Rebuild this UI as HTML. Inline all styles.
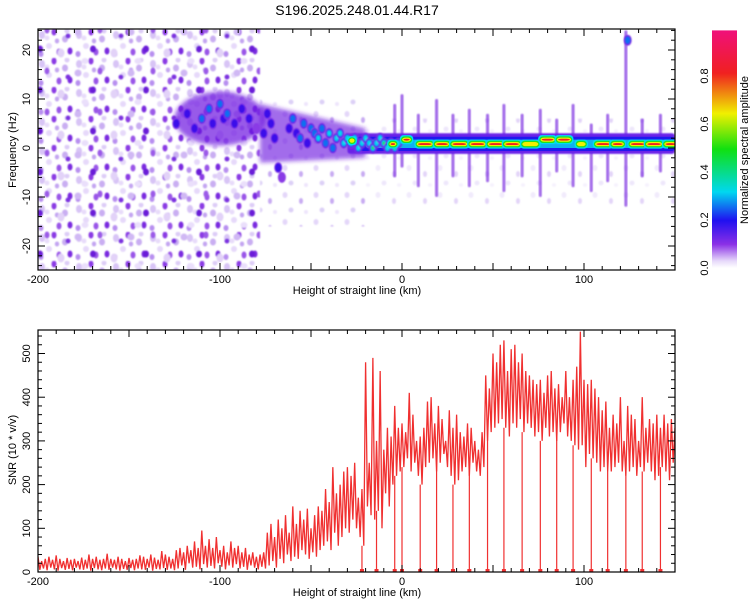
<!DOCTYPE html>
<html><head><meta charset="utf-8"><style>
body{margin:0;background:#fff;}
svg text{font-family:"Liberation Sans",sans-serif;fill:#000;}
</style></head><body>
<svg id="chart" width="750" height="600" viewBox="0 0 750 600" xmlns="http://www.w3.org/2000/svg">
<defs>
<filter id="soft" x="-20%" y="-20%" width="140%" height="140%"><feGaussianBlur stdDeviation="0.9"/></filter>
<filter id="soft2" x="-20%" y="-20%" width="140%" height="140%"><feGaussianBlur stdDeviation="2.2"/></filter>
<pattern id="noise1" width="37" height="29" patternUnits="userSpaceOnUse">
<ellipse cx="5" cy="6" rx="3" ry="4" fill="#d8c4f6"/><ellipse cx="17" cy="3" rx="2.5" ry="3.5" fill="#8a3ae4"/>
<ellipse cx="28" cy="10" rx="3" ry="3.5" fill="#c9aef2"/><ellipse cx="33" cy="22" rx="2.5" ry="3.5" fill="#7a2ce0"/>
<ellipse cx="12" cy="17" rx="3" ry="3" fill="#e6d9fa"/><ellipse cx="22" cy="23" rx="2.5" ry="3.5" fill="#9a55e8"/>
<ellipse cx="4" cy="25" rx="2.5" ry="3" fill="#b88ff0"/><ellipse cx="20" cy="12" rx="2.2" ry="2.5" fill="#c3a4f1"/>
<ellipse cx="10" cy="9" rx="2.5" ry="2.5" fill="#e8dcfa"/><ellipse cx="30" cy="2" rx="2.5" ry="2.5" fill="#ddccf7"/>
</pattern>
<pattern id="noise3" width="53" height="41" patternUnits="userSpaceOnUse">
<ellipse cx="8" cy="12" rx="3.5" ry="4.5" fill="#e2d2f8"/><ellipse cx="40" cy="8" rx="3" ry="3.5" fill="#6a1ed8"/>
<ellipse cx="25" cy="32" rx="3.5" ry="3.5" fill="#d0b8f4"/><ellipse cx="47" cy="30" rx="2.5" ry="3.5" fill="#9b5ae8"/>
<ellipse cx="15" cy="36" rx="2.5" ry="2.5" fill="#7c30e0"/><ellipse cx="32" cy="20" rx="3.5" ry="3" fill="#eadffb"/>
</pattern>
<pattern id="noise2" width="31" height="27" patternUnits="userSpaceOnUse">
<ellipse cx="6" cy="6" rx="2.5" ry="3" fill="#e4d7f9"/><ellipse cx="22" cy="12" rx="2" ry="3" fill="#c7aaf2"/>
<ellipse cx="12" cy="21" rx="2.5" ry="2.5" fill="#ddd0f7"/><ellipse cx="27" cy="23" rx="2" ry="2" fill="#eee5fc"/>
</pattern>
<linearGradient id="cbar" x1="0" y1="1" x2="0" y2="0">
<stop offset="0" stop-color="#ffffff"/><stop offset="0.03" stop-color="#e6d8fa"/>
<stop offset="0.1" stop-color="#8a30e6"/><stop offset="0.2" stop-color="#2010f0"/>
<stop offset="0.32" stop-color="#00d8f0"/><stop offset="0.5" stop-color="#10e010"/>
<stop offset="0.65" stop-color="#f0f000"/><stop offset="0.82" stop-color="#f02020"/>
<stop offset="1" stop-color="#f0107a"/>
</linearGradient>
<clipPath id="clipTop"><rect x="38" y="29" width="637" height="241"/></clipPath>
<clipPath id="clipBot"><rect x="38" y="330" width="637" height="242"/></clipPath>
</defs>
<text x="357" y="15" font-size="14" text-anchor="middle">S196.2025.248.01.44.R17</text>
<g id="top"></g>
<g id="bot"></g>
<g id="cb"></g>
</svg>
<script>
// ---- data ----
const blobKm=[-124,-118,-114,-110,-106,-104,-100,-98,-96,-92,-88,-84,-80,-76,-74,-72,-70,-68,-66,-62,-60,-58,-56,-54,-52,-50,-48,-46,-44,-42,-40,-38,-36,-34,-32,-30,-28,-26,-24,-22,-20,-18,-16,-14,-12,-10,-8,-6,-4,-2,124];
const blobFreq=[5,7,4,6,8,5,9,6,7,5,8,6,4,3,7,5,2,-4,-6,4,6,3,2,5,1,4,3,2,4,1,3,0,2,3,1,2,1,2,0,1,2,1,0,1,2,1,0,1,0,1,22];
const blobAmp=[0.25,0.2,0.22,0.26,0.3,0.2,0.28,0.22,0.26,0.18,0.2,0.18,0.16,0.2,0.24,0.22,0.25,0.2,0.15,0.22,0.3,0.24,0.28,0.3,0.25,0.3,0.27,0.32,0.26,0.3,0.33,0.28,0.32,0.35,0.4,0.45,0.4,0.35,0.38,0.42,0.45,0.4,0.5,0.45,0.38,0.5,0.4,0.45,0.55,0.45,0.3];
const dashStartKm=[-28,-6,1,9,19,28,38,48,57,67,77,86,97,107,116,126,135,145];
const dashEndKm=[-27,-4,4,16,25,35,45,55,64,74,83,92,100,114,121,133,142,150];
const dashFreq=[1.5,0.8,1.7,0.8,0.8,0.8,0.8,0.8,0.8,0.8,1.7,1.7,0.8,0.8,0.8,0.8,0.8,0.8];
const dashAmp=[0.65,0.8,0.85,0.85,0.85,0.85,0.85,0.85,0.85,0.65,0.85,0.85,0.7,0.8,0.85,0.85,0.85,0.85];
const spikeKm=[-4,0,9,19,28,37,47,56,66,76,85,94,104,113,123,132,142];
const spikeTop=[9,11,7,10,7,8,7,9,7,8,6,9,5,7,24,6,7];
const spikeBottom=[-6,-4,-8,-10,-6,-8,-7,-9,-6,-10,-5,-8,-9,-7,-12,-6,-5];
const kmStart=-200, kmStep=2;
const snrHi=[35,25,30,35,28,38,30,25,32,28,30,25,33,28,40,30,35,28,30,42,30,28,35,30,25,32,28,30,38,35,30,40,33,28,48,40,35,30,
50,55,45,60,50,70,55,95,60,75,55,80,50,60,45,70,55,60,45,55,40,45,35,40,45,
90,110,80,120,100,130,90,150,110,140,120,145,100,130,150,140,190,160,240,180,200,230,240,220,250,170,190,480,250,490,300,460,280,330,310,380,330,
340,320,410,360,300,310,330,390,400,340,380,350,300,370,330,360,320,310,340,330,300,280,320,450,420,500,480,520,530,460,510,520,480,500,460,450,440,430,440,410,450,460,420,430,400,460,400,440,470,550,440,430,440,420,400,370,390,330,360,340,400,300,380,360,350,300,400,330,350,340,360,330,360,340,350,330];
const snrLo=[5,8,4,10,6,3,9,5,7,4,10,6,5,8,3,9,6,4,8,5,10,6,3,7,5,9,4,8,6,5,10,3,7,6,9,5,8,4,
8,15,5,20,10,12,6,18,10,14,8,20,12,6,15,10,18,8,12,5,15,10,6,12,8,
15,25,10,30,20,40,25,35,30,50,40,30,45,35,50,60,70,50,90,60,80,100,90,120,100,80,60,150,130,120,140,100,180,150,200,220,230,
240,260,230,250,220,200,240,250,260,230,250,270,240,220,200,210,230,240,220,250,230,220,240,300,320,330,340,350,330,310,340,330,350,320,340,330,310,320,300,330,310,320,300,320,340,310,300,290,280,290,240,270,260,250,230,240,230,230,240,250,230,220,230,240,220,240,230,250,230,210,220,240,230,210,250,240];
const dropKm=[-22,-14,-4,0,10,19,28,37,47,56,66,76,85,94,104,113,123,132,142];
const xTicks=[-200,-100,0,100];
const freqTicks=[-20,-10,0,10,20];
const snrTicks=[0,100,200,300,400,500];
const cbTicks=[0,0.2,0.4,0.6,0.8];

// ---- scales ----
const X0=38,X1=675,KM0=-200,KM1=150;
const xs=k=>X0+(k-KM0)*(X1-X0)/(KM1-KM0);
const fy=f=>148-4.9*f;
const sy=v=>572-v*0.437;
const cy=v=>268-v*240;
const NS="http://www.w3.org/2000/svg";
function mk(tag,attrs,parent){const e=document.createElementNS(NS,tag);for(const k in attrs)e.setAttribute(k,attrs[k]);parent.appendChild(e);return e;}
const levels=[[0.02,'#8a3ae6'],[0.17,'#3a10ea'],[0.26,'#1070f0'],[0.32,'#00dcf0'],[0.5,'#20e020'],[0.62,'#f0f000'],[0.75,'#f02020']];

const topG=document.getElementById('top'),botG=document.getElementById('bot'),cbG=document.getElementById('cb');
const tg=mk('g',{'clip-path':'url(#clipTop)'},topG);
const cloud=mk('g',{filter:'url(#soft)'},tg);
let r=mk('rect',{x:X0,y:29,width:xs(-78)-X0,height:241,fill:'url(#noise1)'},cloud);

r=mk('rect',{x:X0,y:29,width:xs(-78)-X0,height:241,fill:'url(#noise3)'},cloud);

r=mk('rect',{x:xs(-78),y:fy(10),width:xs(-20)-xs(-78),height:fy(-16)-fy(10),fill:'url(#noise2)'},cloud);

r=mk('rect',{x:xs(-20),y:fy(6),width:X1-xs(-20),height:fy(-12)-fy(6),fill:'url(#noise2)',opacity:0.5},cloud);

const dens=mk('g',{filter:'url(#soft2)'},tg);
let d0=mk('ellipse',{cx:xs(-100),cy:fy(6),rx:xs(-75)-xs(-100),ry:4.9*5.5,fill:'#7018e0',opacity:0.72},dens);

d0=mk('polygon',{points:`${xs(-78)},${fy(9)} ${xs(-20)},${fy(4)} ${xs(-20)},${fy(-2)} ${xs(-78)},${fy(-3)}`,fill:'#7018e0',opacity:0.65},dens);

spikeKm.forEach((k,i)=>{
 const el=mk('rect',{x:xs(k)-1.5,y:fy(spikeTop[i]),width:3,height:fy(spikeBottom[i])-fy(spikeTop[i]),fill:'#7a2ce0',opacity:0.7,rx:1.5,filter:'url(#soft)'},tg);
 
 
});
let band=mk('rect',{x:xs(-30),y:fy(3),width:X1-xs(-30),height:fy(-1.2)-fy(3),fill:'#6a20e8',rx:3,filter:'url(#soft)'},tg);

band=mk('rect',{x:xs(-25),y:fy(2.3),width:X1-xs(-25),height:fy(-0.6)-fy(2.3),fill:'#2018ee',rx:3},tg);

band=mk('rect',{x:xs(-20),y:fy(1.7),width:X1-xs(-20),height:fy(0)-fy(1.7),fill:'#10b0f0',rx:3},tg);

const bl=mk('g',{filter:'url(#soft)'},tg);
blobKm.forEach((k,i)=>{
 const a=blobAmp[i];const g=mk('g',{},bl);
 
 
 levels.forEach((lv,j)=>{if(a>=lv[0]){const s=1-j*0.18;mk('ellipse',{cx:xs(k),cy:fy(blobFreq[i]),rx:4*s,ry:5.5*s,fill:lv[1]},g);}});
});
dashStartKm.forEach((k,i)=>{
 const a=dashAmp[i];const g=mk('g',{},tg);
 
 
 const x1=xs(k),x2=xs(dashEndKm[i]),y=fy(dashFreq[i]);
 levels.slice(3).forEach((lv,j)=>{if(a>=lv[0]){const p=j*1.2;mk('rect',{x:x1-4+p,y:y-4.5+p,width:x2-x1+8-2*p,height:9-2*p,rx:3.5,fill:lv[1]},g);}});
});
function frame(g,y0,y1){
 const f=mk('rect',{x:X0,y:y0,width:X1-X0,height:y1-y0,fill:'none',stroke:'#000','stroke-width':1.2},g);
 
 for(let k=-200;k<=150;k+=10){const x=xs(k),L=(k%50===0)?7:4;
  mk('line',{x1:x,y1:y0,x2:x,y2:y0+L,stroke:'#000'},g);mk('line',{x1:x,y1:y1,x2:x,y2:y1-L,stroke:'#000'},g);}
 xTicks.forEach(k=>{const t=mk('text',{x:xs(k),y:y1+13,'font-size':11,'text-anchor':'middle'},g);t.textContent=k;
  });
 const xl=mk('text',{x:357,y:y1+24,'font-size':11,'text-anchor':'middle'},g);xl.textContent='Height of straight line (km)';
 
}
frame(topG,29,270);
for(let f=-24;f<=24;f+=2){const y=fy(f),L=(f%10===0)?7:4;mk('line',{x1:X0,y1:y,x2:X0+L,y2:y,stroke:'#000'},topG);mk('line',{x1:X1,y1:y,x2:X1-L,y2:y,stroke:'#000'},topG);}
freqTicks.forEach(f=>{const t=mk('text',{x:0,y:0,'font-size':11,'text-anchor':'middle',transform:`translate(30,${fy(f)}) rotate(-90)`},topG);t.textContent=f;
 });
let yl=mk('text',{'font-size':11,'text-anchor':'middle',transform:'translate(16,150) rotate(-90)'},topG);yl.textContent='Frequency (Hz)';


const bg=mk('g',{'clip-path':'url(#clipBot)'},botG);
let pts=[];
snrHi.forEach((v,i)=>{const k=kmStart+i*kmStep;pts.push(xs(k)+','+sy(v));pts.push(xs(k+1)+','+sy(snrLo[i]));});
const line=mk('polyline',{points:pts.join(' '),fill:'none',stroke:'#f03030','stroke-width':1.3},bg);

dropKm.forEach(k=>{const i=Math.round((k-kmStart)/kmStep);const v=snrLo[Math.min(i,snrLo.length-1)];
 const d=mk('line',{x1:xs(k),y1:sy(v),x2:xs(k),y2:sy(0),stroke:'#f03030','stroke-width':1.2},bg);
 
 
 const m=mk('rect',{x:xs(k)-2,y:sy(0)-3,width:4,height:3,fill:'#f03030'},bg);
 
 
});
frame(botG,330,572);
for(let v=0;v<=550;v+=20){const y=sy(v),L=(v%100===0)?7:4;mk('line',{x1:X0,y1:y,x2:X0+L,y2:y,stroke:'#000'},botG);mk('line',{x1:X1,y1:y,x2:X1-L,y2:y,stroke:'#000'},botG);}
snrTicks.forEach(v=>{const t=mk('text',{'font-size':11,'text-anchor':'middle',transform:`translate(30,${sy(v)}) rotate(-90)`},botG);t.textContent=v;
 });
yl=mk('text',{'font-size':11,'text-anchor':'middle',transform:'translate(16,450) rotate(-90)'},botG);yl.textContent='SNR (10 * v/v)';


const cr=mk('rect',{x:712,y:cy(0.99),width:25,height:cy(0)-cy(0.99),fill:'url(#cbar)'},cbG);

cbTicks.forEach(v=>{
 const t=mk('text',{'font-size':11,'text-anchor':'middle',transform:`translate(708,${cy(v)}) rotate(-90)`},cbG);t.textContent=v.toFixed(1);
 });
const ct=mk('text',{'font-size':11,'text-anchor':'middle',transform:'translate(748,150) rotate(-90)'},cbG);ct.textContent='Normalized spectral amplitude';

</script>
</body></html>
